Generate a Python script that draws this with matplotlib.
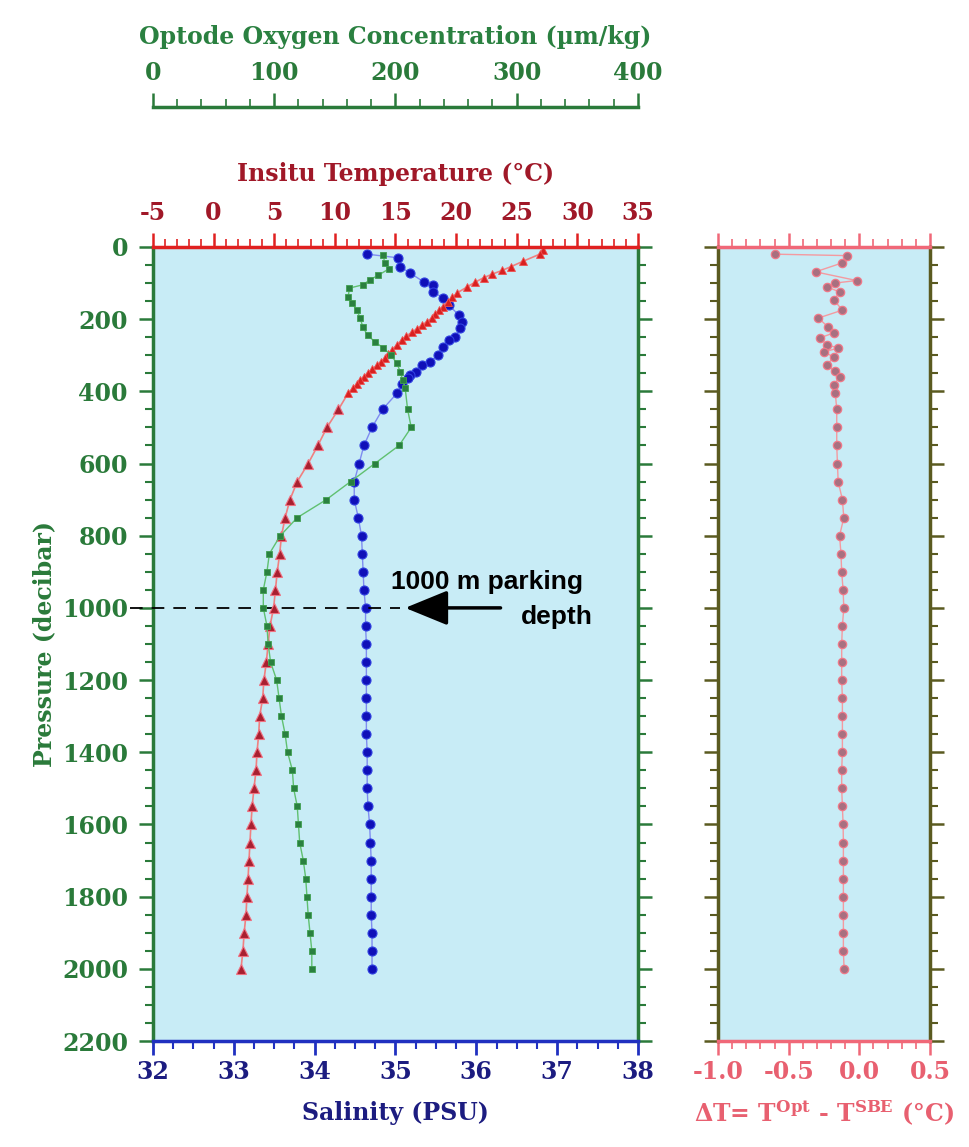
import matplotlib.pyplot as plt
from matplotlib.ticker import MultipleLocator

plt.rcParams['font.family'] = 'DejaVu Serif'
plt.rcParams['font.weight'] = 'bold'
plt.rcParams['axes.labelweight'] = 'bold'
plt.rcParams['axes.unicode_minus'] = False
plt.rcParams['mathtext.fontset'] = 'dejavuserif'

# float profile, pressure in decibar
sal_p = [20, 30, 55, 72, 97, 105, 125, 141, 161, 188, 208, 224, 249, 258, 277, 299, 319, 327,
         346, 355, 363, 380, 405, 450, 500, 550, 600, 650, 700, 750, 800, 850, 900, 950, 1000,
         1050, 1100, 1150, 1200, 1250, 1300, 1350, 1400, 1450, 1500, 1550, 1600, 1650, 1700,
         1750, 1800, 1850, 1900, 1950, 2000]
sal = [34.65, 35.03, 35.06, 35.18, 35.35, 35.46, 35.47, 35.59, 35.66, 35.78, 35.82, 35.80, 35.74,
       35.66, 35.59, 35.52, 35.43, 35.33, 35.25, 35.18, 35.15, 35.08, 35.02, 34.84, 34.71, 34.61,
       34.55, 34.49, 34.49, 34.54, 34.58, 34.59, 34.60, 34.61, 34.63, 34.63, 34.64, 34.64, 34.64,
       34.64, 34.64, 34.64, 34.65, 34.65, 34.65, 34.66, 34.68, 34.69, 34.70, 34.70, 34.70, 34.70,
       34.71, 34.71, 34.71]

temp_p = [8, 20, 40, 55, 65, 75, 85, 97, 111, 127, 140, 152, 165, 175, 187, 197, 207, 216, 226,
          235, 247, 258, 272, 285, 297, 308, 318, 327, 338, 349, 359, 369, 380, 391, 405, 450,
          500, 550, 600, 650, 700, 750, 800, 850, 900, 950, 1000, 1050, 1100, 1150, 1200, 1250,
          1300, 1350, 1400, 1450, 1500, 1550, 1600, 1650, 1700, 1750, 1800, 1850, 1900, 1950, 2000]
temp = [27.2, 26.9, 25.5, 24.5, 23.8, 23.0, 22.3, 21.6, 20.9, 20.1, 19.7, 19.3, 18.9, 18.6, 18.3,
        18.0, 17.6, 17.2, 16.8, 16.4, 15.9, 15.5, 15.1, 14.7, 14.4, 14.1, 13.8, 13.5, 13.1, 12.7,
        12.4, 12.1, 11.8, 11.5, 11.1, 10.3, 9.35, 8.6, 7.8, 6.9, 6.3, 5.9, 5.6, 5.45, 5.25, 5.1,
        4.95, 4.65, 4.5, 4.35, 4.15, 4.05, 3.8, 3.72, 3.58, 3.5, 3.33, 3.18, 3.08, 3.0, 2.92,
        2.84, 2.75, 2.67, 2.52, 2.42, 2.26]

oxy_p = [22, 44, 60, 78, 91, 105, 114, 139, 155, 175, 197, 222, 244, 263, 280, 299, 321, 346,
         369, 391, 450, 500, 550, 600, 650, 700, 750, 800, 850, 900, 950, 1000, 1050, 1100,
         1150, 1200, 1250, 1300, 1350, 1400, 1450, 1500, 1550, 1600, 1650, 1700, 1750, 1800,
         1850, 1900, 1950, 2000]
oxy = [190, 191, 195, 186, 179, 173, 162, 161, 164, 168, 171, 173, 177, 183, 190, 196, 201, 204,
       206, 208, 210, 213, 203, 183, 163, 143, 119, 105, 96, 94, 91, 91, 94, 95, 97, 102, 104,
       106, 109, 111, 115, 116, 119, 120, 121, 124, 126, 127, 128, 129.5, 131, 131]

# optode minus SBE temperature
dt_p = [20, 24, 44, 69, 93, 100, 110, 125, 147, 175, 197, 222, 238, 252, 271, 280, 291, 305,
        327, 345, 360, 382, 405, 450, 500, 550, 600, 650, 700, 750, 800, 850, 900, 950, 1000,
        1050, 1100, 1150, 1200, 1250, 1300, 1350, 1400, 1450, 1500, 1550, 1600, 1650, 1700,
        1750, 1800, 1850, 1900, 1950, 2000]
dt = [-0.60, -0.09, -0.12, -0.31, -0.02, -0.17, -0.23, -0.14, -0.18, -0.12, -0.29, -0.22, -0.18,
      -0.28, -0.23, -0.15, -0.25, -0.18, -0.23, -0.17, -0.14, -0.18, -0.17, -0.16, -0.16, -0.16,
      -0.155, -0.15, -0.12, -0.11, -0.14, -0.13, -0.125, -0.115, -0.11, -0.12, -0.125, -0.125,
      -0.125, -0.12, -0.12, -0.12, -0.12, -0.125, -0.125, -0.12, -0.115, -0.113, -0.113, -0.113,
      -0.113, -0.113, -0.113, -0.113, -0.108]

bg = '#c8ecf6'
green = '#2a7a3a'
red = '#e02020'
darkred = '#a01828'
blue = '#2030c0'
navy = '#1c1c80'
pink = '#f06878'
olive = '#5a5a20'

fig = plt.figure(figsize=(9.7, 11.47), dpi=100)
ax = fig.add_axes([0.1577, 0.0924, 0.5, 0.6923])
ax.set_facecolor(bg)
ax_t = ax.twiny()
ax_o = ax.twiny()

# salinity
ax.plot(sal, sal_p, '-', color='#7f8cf0', lw=1.0, zorder=2)
ax.plot(sal, sal_p, 'o', color='#1010b8', ms=6.5, mec='#3040e0', mew=0.8, zorder=3)

# temperature: dense near-surface samples drawn smaller
ax_t.plot(temp, temp_p, '-', color='#f08080', lw=1.2)
up = [i for i, p in enumerate(temp_p) if p < 420]
lo = [i for i, p in enumerate(temp_p) if p >= 420]
ax_t.plot([temp[i] for i in up], [temp_p[i] for i in up], '^', color='#d82020', ms=5.5,
          mec='#f05050', mew=0.6)
ax_t.plot([temp[i] for i in lo], [temp_p[i] for i in lo], '^', color='#a82030', ms=7,
          mec='#f07080', mew=0.8)

# oxygen
ax_o.plot(oxy, oxy_p, '-', color='#60c070', lw=1.0)
ax_o.plot(oxy, oxy_p, 's', color='#2a8040', ms=5, mec='#40a050', mew=0.6)

ax.set_ylim(2200, 0)
ax.set_xlim(32, 38)
ax_t.set_xlim(-5, 35)
ax_o.set_xlim(0, 400)

for a in (ax, ax_t, ax_o):
    for s in a.spines.values():
        s.set_linewidth(2.5)
ax.spines['top'].set_visible(False)
ax.spines['bottom'].set_color(blue)
ax.spines['left'].set_color(green)
ax.spines['right'].set_color(green)
for a in (ax_t, ax_o):
    for side in ('bottom', 'left', 'right'):
        a.spines[side].set_visible(False)
ax_t.spines['top'].set_color(red)
ax_o.spines['top'].set_color(green)
ax_o.spines['top'].set_position(('outward', 100.8))

ax.xaxis.set_major_locator(MultipleLocator(1))
ax.xaxis.set_minor_locator(MultipleLocator(0.25))
ax.yaxis.set_major_locator(MultipleLocator(200))
ax.yaxis.set_minor_locator(MultipleLocator(50))
ax_t.xaxis.set_major_locator(MultipleLocator(5))
ax_t.xaxis.set_minor_locator(MultipleLocator(1))
ax_o.xaxis.set_major_locator(MultipleLocator(100))
ax_o.xaxis.set_minor_locator(MultipleLocator(20))

ax.tick_params(axis='x', which='both', direction='out', colors=blue, labelcolor=navy,
               labelsize=17, pad=4)
ax.tick_params(axis='x', which='major', length=10, width=2)
ax.tick_params(axis='x', which='minor', length=6, width=1.5)
ax.tick_params(axis='y', which='both', direction='out', left=True, right=True,
               colors=green, labelcolor=green, labelsize=17, pad=8)
ax.tick_params(axis='y', which='major', length=10, width=1.8)
ax.tick_params(axis='y', which='minor', length=6, width=1.5)
ax_t.tick_params(axis='x', which='both', direction='out', colors=red, labelcolor=darkred,
                 labelsize=17, pad=6)
ax_t.tick_params(axis='x', which='major', length=10, width=1.8)
ax_t.tick_params(axis='x', which='minor', length=6, width=1.2)
ax_o.tick_params(axis='x', which='both', direction='out', colors=green, labelcolor=green,
                 labelsize=17, pad=6)
ax_o.tick_params(axis='x', which='major', length=10, width=1.8)
ax_o.tick_params(axis='x', which='minor', length=6, width=1.2)

ax.set_xlabel('Salinity (PSU)', color=navy, fontsize=17, labelpad=12)
ax.set_ylabel('Pressure (decibar)', color=green, fontsize=17, labelpad=4)
ax_t.set_xlabel('Insitu Temperature (°C)', color=darkred, fontsize=17, labelpad=14)
ax_o.set_xlabel('Optode Oxygen Concentration (µm/kg)', color='#2a8040', fontsize=17,
                labelpad=12)

# parking depth marker
ax.plot([31.71, 35.06], [1000, 1000], color='black', lw=1.3, ls=(0, (7, 5)),
        clip_on=False, zorder=5)
ax.annotate('', xy=(35.12, 1000), xytext=(36.30, 1000),
            arrowprops=dict(arrowstyle='-|>,head_length=1.1,head_width=0.45',
                            mutation_scale=24, lw=2.5, color='black',
                            shrinkA=0, shrinkB=0), zorder=6)
ax.text(36.13, 928, '1000 m parking', ha='center', va='center', fontsize=19,
        family='Liberation Sans', weight='bold', color='black', zorder=6)
ax.text(36.99, 1025, 'depth', ha='center', va='center', fontsize=19,
        family='Liberation Sans', weight='bold', color='black', zorder=6)

# temperature difference panel
ax2 = fig.add_axes([0.7402, 0.0924, 0.2186, 0.6923])
ax2.set_facecolor(bg)
ax2.plot(dt, dt_p, '-', color='#f49aa0', lw=1.0)
ax2.plot(dt, dt_p, 'o', color='#a87080', ms=6, mec='#f07888', mew=0.9)
ax2.set_xlim(-1.0, 0.5)
ax2.set_ylim(2200, 0)
for side in ('left', 'right'):
    ax2.spines[side].set_color(olive)
    ax2.spines[side].set_linewidth(2.5)
for side in ('top', 'bottom'):
    ax2.spines[side].set_color(pink)
    ax2.spines[side].set_linewidth(2.5)
ax2.xaxis.set_major_locator(MultipleLocator(0.5))
ax2.xaxis.set_minor_locator(MultipleLocator(0.1))
ax2.yaxis.set_major_locator(MultipleLocator(200))
ax2.yaxis.set_minor_locator(MultipleLocator(50))
ax2.xaxis.set_major_formatter(lambda v, pos: f'{v:.1f}')
ax2.tick_params(axis='x', which='both', direction='out', top=True, bottom=True,
                colors=pink, labelcolor='#e86070', labelsize=17, pad=4)
ax2.tick_params(axis='x', which='major', length=10, width=1.8)
ax2.tick_params(axis='x', which='minor', length=6, width=1.2)
ax2.tick_params(axis='y', which='both', direction='out', left=True, right=True,
                colors=olive, labelleft=False)
ax2.tick_params(axis='y', which='major', length=10, width=1.8)
ax2.tick_params(axis='y', which='minor', length=6, width=1.5)
ax2.set_xlabel(r'ΔT= T$^{\mathbf{Opt}}$ - T$^{\mathbf{SBE}}$ (°C)', color='#e86070',
               fontsize=17, labelpad=10)

fig.savefig('out.png', dpi=100)
